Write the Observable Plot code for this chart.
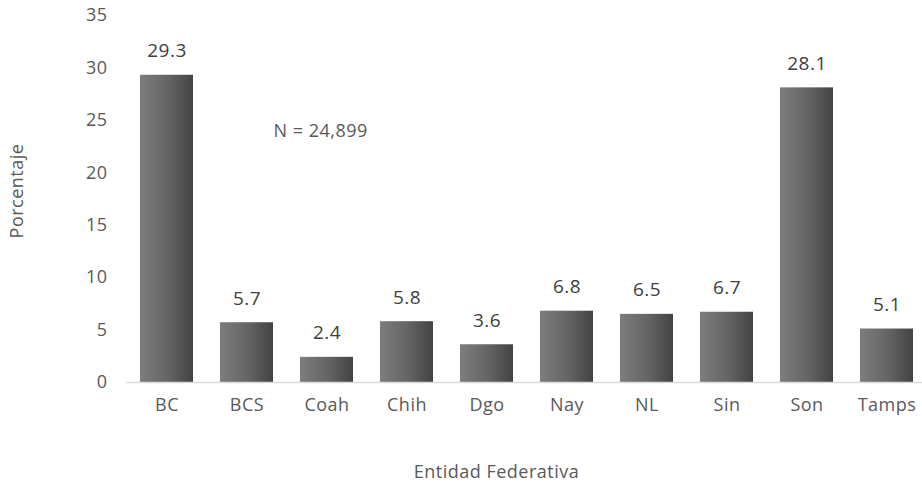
<!DOCTYPE html>
<html>
<head>
<meta charset="utf-8">
<script src="https://cdn.jsdelivr.net/npm/d3@7"></script>
<script src="https://cdn.jsdelivr.net/npm/@observablehq/plot@0.6"></script>
<style>
  html, body { margin: 0; padding: 0; background: #fff; }
  #chart { width: 922px; height: 485px; }
  #chart svg text { letter-spacing: 0.5px; }
</style>
</head>
<body>
<div id="chart"></div>
<script>
const categories = ["BC", "BCS", "Coah", "Chih", "Dgo", "Nay", "NL", "Sin", "Son", "Tamps"];
const values = [29.3, 5.7, 2.4, 5.8, 3.6, 6.8, 6.5, 6.7, 28.1, 5.1];
const yTicks = [0, 5, 10, 15, 20, 25, 30, 35];
const xTitle = "Entidad Federativa";
const yTitle = "Porcentaje";
const nLabel = "N = 24,899";

const data = categories.map((c, i) => ({cat: c, value: values[i]}));
const font = "'Open Sans', sans-serif";

const gradientDefs = () => {
  const ns = "http://www.w3.org/2000/svg";
  const defs = document.createElementNS(ns, "defs");
  const lg = document.createElementNS(ns, "linearGradient");
  lg.setAttribute("id", "barGrad");
  lg.setAttribute("x1", "0"); lg.setAttribute("x2", "1");
  lg.setAttribute("y1", "0"); lg.setAttribute("y2", "0");
  [["0%", "#7d7d7d"], ["50%", "#666666"], ["100%", "#434343"]].forEach(([o, c]) => {
    const s = document.createElementNS(ns, "stop");
    s.setAttribute("offset", o); s.setAttribute("stop-color", c);
    lg.appendChild(s);
  });
  defs.appendChild(lg);
  return defs;
};

const chart = Plot.plot({
  width: 922,
  height: 485,
  marginLeft: 126,
  marginRight: 0,
  marginTop: 15,
  marginBottom: 103,
  style: {fontFamily: font, fontSize: "18px", color: "#595959", background: "#fff"},
  x: {domain: categories, range: [125.4, 927.6], paddingInner: 0.34, paddingOuter: 0.17, label: null},
  y: {domain: [0, 35], range: [382, 15], label: null},
  marks: [
    gradientDefs,
    Plot.axisY({ticks: yTicks, tickSize: 0, tickPadding: 19, label: null, fontSize: 18, fill: "#595959"}),
    Plot.axisX({tickSize: 0, tickPadding: 16, label: null, fontSize: 18, fill: "#595959"}),
    Plot.barY(data, {x: "cat", y: "value", fill: "url(#barGrad)"}),
    Plot.ruleY([0], {stroke: "#d9d9d9", strokeWidth: 1.5}),
    Plot.text(data, {x: "cat", y: "value", text: d => d.value.toFixed(1), dy: -24, fontSize: 19, fill: "#404040", lineAnchor: "middle"}),
    Plot.text([nLabel], {frameAnchor: "top-left", dx: 147, dy: 116, textAnchor: "start", lineAnchor: "middle", fontSize: 18, fill: "#595959"}),
    Plot.text([xTitle], {frameAnchor: "bottom", dx: -28, dy: 90, textAnchor: "middle", lineAnchor: "middle", fontSize: 18, fill: "#595959"}),
    Plot.text([yTitle], {frameAnchor: "left", dx: -109, dy: -8, rotate: -90, textAnchor: "middle", lineAnchor: "middle", fontSize: 18, fill: "#595959"})
  ]
});
document.getElementById("chart").appendChild(chart);
</script>
</body>
</html>
